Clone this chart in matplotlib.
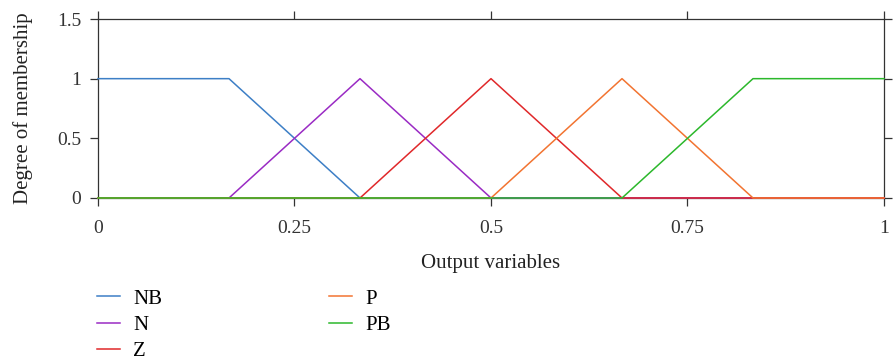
import numpy as np
import matplotlib.pyplot as plt

plt.rcParams["font.family"] = ["Liberation Serif", "DejaVu Serif"]

# ---------- Membership functions (breakpoints) ----------
labels = ["NB", "N", "Z", "P", "PB"]
xs = [
    [0, 1/6, 1/3, 1],
    [0, 1/6, 1/3, 1/2, 1],
    [0, 1/3, 1/2, 2/3, 1],
    [0, 1/2, 2/3, 5/6, 1],
    [0, 2/3, 5/6, 1],
]
ys = [
    [1, 1, 0, 0],
    [0, 0, 1, 0, 0],
    [0, 0, 1, 0, 0],
    [0, 0, 1, 0, 0],
    [0, 0, 1, 1],
]
colors = ["#3d7fc6", "#9a2bc4", "#e0282a", "#f27431", "#2cb82c"]

xticks = [0, 0.25, 0.5, 0.75, 1]
xtick_labels = ["0", "0.25", "0.5", "0.75", "1"]
yticks = [0, 0.5, 1, 1.5]
ytick_labels = ["0", "0.5", "1", "1.5"]

W, H = 895, 361
fig = plt.figure(figsize=(W / 100, H / 100), dpi=100)
# axes box in pixels: left 98, right 884, top 19, bottom 198
ax = fig.add_axes([98 / W, 1 - 198 / H, (884 - 98) / W, (198 - 19) / H])

for x, y, c, lbl in zip(xs, ys, colors, labels):
    ax.plot(x, y, color=c, lw=1.1, label=lbl, clip_on=False, zorder=3)

ax.set_xlim(0, 1)
ax.set_ylim(0, 1.5)
ax.set_xticks(xticks)
ax.set_xticklabels(xtick_labels)
ax.set_yticks(yticks)
ax.set_yticklabels(ytick_labels)
ax.tick_params(direction="out", top=True, right=True, labelsize=14,
               colors="#333333", length=6, width=0.9)
ax.tick_params(axis="x", pad=10)
ax.tick_params(axis="y", pad=6)
for sp in ax.spines.values():
    sp.set_color("#333333")
    sp.set_linewidth(0.9)

ax.set_xlabel("Output variables", fontsize=15, color="#222222", labelpad=12)
ax.set_ylabel("Degree of membership", fontsize=15, color="#222222", labelpad=17)

fig.legend(*ax.get_legend_handles_labels(), loc="upper left",
           bbox_to_anchor=(97 / W, 1 - 289 / H), ncol=2,
           frameon=False, fontsize=15, handlelength=1.1, handletextpad=0.65,
           columnspacing=8.0, labelspacing=0.32, borderpad=0, borderaxespad=0)

fig.savefig("out.png", dpi=100)
